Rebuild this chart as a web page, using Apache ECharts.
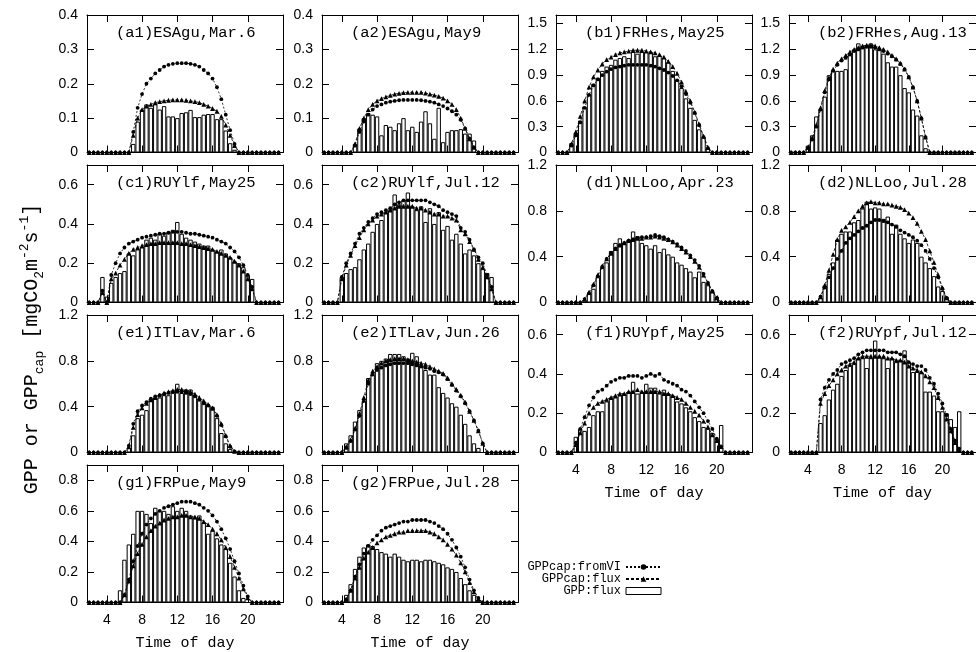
<!DOCTYPE html>
<html><head><meta charset="utf-8">
<script src="https://cdn.jsdelivr.net/npm/echarts@6/dist/echarts.min.js"></script>
<style>html,body{margin:0;padding:0;background:#fff}#c{width:976px;height:652px}</style>
</head><body><div id="c"></div>
<script>
// ---------- tick labels / categories ----------
const xTickHours = [4, 8, 12, 16, 20];
const yTicks_a = [0, 0.1, 0.2, 0.3, 0.4];
const yTicks_b = [0, 0.3, 0.6, 0.9, 1.2, 1.5];
const yTicks_c = [0, 0.2, 0.4, 0.6];
const yTicks_d = [0, 0.4, 0.8, 1.2];
const yTicks_g = [0, 0.2, 0.4, 0.6, 0.8];
const seriesNames = ['GPPcap:fromVI', 'GPPcap:flux', 'GPP:flux'];
const panelLabels = ['(a1)ESAgu,Mar.6', '(a2)ESAgu,May9', '(b1)FRHes,May25', '(b2)FRHes,Aug.13',
  '(c1)RUYlf,May25', '(c2)RUYlf,Jul.12', '(d1)NLLoo,Apr.23', '(d2)NLLoo,Jul.28',
  '(e1)ITLav,Mar.6', '(e2)ITLav,Jun.26', '(f1)RUYpf,May25', '(f2)RUYpf,Jul.12',
  '(g1)FRPue,May9', '(g2)FRPue,Jul.28'];

// ---------- half-hourly values (start hour, values every 0.5 h; zero elsewhere) ----------
const a1_bar = {start: 7.0, v: [0.025,0.09,0.125,0.14,0.13,0.14,0.125,0.135,0.105,0.105,0.1,0.115,0.117,0.124,0.103,0.103,0.11,0.112,0.112,0.097,0.097,0.064,0.027,0.008]};
const a1_vi = {start: 6.5, v: [0,0.06,0.13,0.17,0.2,0.215,0.23,0.24,0.25,0.255,0.258,0.26,0.26,0.26,0.258,0.255,0.25,0.24,0.23,0.215,0.19,0.155,0.11,0.065,0.025,0]};
const a1_fx = {start: 6.5, v: [0,0.05,0.1,0.125,0.135,0.14,0.145,0.148,0.15,0.152,0.153,0.153,0.153,0.152,0.15,0.148,0.145,0.14,0.135,0.128,0.12,0.105,0.08,0.05,0.02,0]};

const a2_bar = {start: 5.5, v: [0.025,0.07,0.1,0.115,0.11,0.105,0.05,0.08,0.075,0.065,0.085,0.1,0.065,0.075,0.06,0.09,0.12,0.085,0.04,0.13,0.03,0.06,0.065,0.065,0.068,0.055,0.055,0.035]};
const a2_vi = {start: 5.0, v: [0,0.02,0.06,0.09,0.11,0.125,0.135,0.14,0.145,0.148,0.15,0.152,0.153,0.153,0.153,0.153,0.152,0.15,0.148,0.145,0.14,0.135,0.128,0.12,0.11,0.095,0.07,0.04,0.015,0]};
const a2_fx = {start: 5.0, v: [0,0.025,0.07,0.1,0.125,0.14,0.15,0.157,0.162,0.166,0.17,0.172,0.174,0.175,0.175,0.175,0.175,0.173,0.17,0.167,0.163,0.158,0.15,0.14,0.125,0.1,0.07,0.04,0.015,0]};

const b1_bar = {start: 3.5, v: [0.11,0.23,0.37,0.53,0.68,0.8,0.87,0.95,1.0,1.02,1.08,1.1,1.12,1.1,1.17,1.15,1.17,1.17,1.17,1.12,1.13,1.1,1.05,0.95,0.85,0.75,0.63,0.52,0.38,0.27,0.18,0.05]};
const b1_vi = {start: 3.0, v: [0,0.08,0.2,0.35,0.52,0.67,0.78,0.85,0.9,0.94,0.97,0.99,1.0,1.01,1.02,1.02,1.02,1.02,1.02,1.01,1.0,0.98,0.96,0.93,0.89,0.84,0.77,0.68,0.58,0.46,0.32,0.18,0.05,0]};
const b1_fx = {start: 3.0, v: [0,0.1,0.24,0.42,0.6,0.76,0.88,0.96,1.03,1.08,1.11,1.14,1.16,1.17,1.18,1.19,1.19,1.19,1.18,1.17,1.16,1.14,1.11,1.06,1.0,0.92,0.82,0.71,0.6,0.47,0.33,0.19,0.06,0]};

const b2_bar = {start: 4.0, v: [0.08,0.2,0.42,0.5,0.65,0.9,0.95,0.95,0.95,0.97,1.15,1.2,1.27,1.22,1.25,1.27,1.2,1.2,1.15,1.05,1.0,1.0,0.9,0.75,0.7,0.5,0.43,0.2,0.05]};
const b2_vi = {start: 3.5, v: [0,0.05,0.15,0.3,0.5,0.7,0.85,0.95,1.02,1.07,1.1,1.14,1.18,1.2,1.22,1.23,1.23,1.22,1.2,1.18,1.15,1.12,1.08,1.03,0.97,0.88,0.76,0.6,0.4,0.18,0]};
const b2_fx = {start: 3.5, v: [0,0.06,0.17,0.32,0.52,0.72,0.87,0.97,1.04,1.09,1.13,1.17,1.2,1.22,1.24,1.25,1.25,1.24,1.22,1.2,1.17,1.13,1.09,1.04,0.97,0.88,0.76,0.6,0.4,0.18,0]};

const c1_bar = {start: 3.5, v: [0.13,0.03,0.1,0.13,0.15,0.16,0.25,0.24,0.27,0.28,0.32,0.33,0.32,0.35,0.34,0.36,0.37,0.41,0.35,0.33,0.32,0.31,0.3,0.29,0.29,0.27,0.26,0.27,0.25,0.23,0.21,0.2,0.18,0.14,0.12]};
const c1_vi = {start: 3.0, v: [0,0.06,0,0.14,0.2,0.25,0.28,0.3,0.31,0.32,0.33,0.335,0.34,0.345,0.35,0.35,0.355,0.36,0.36,0.36,0.355,0.35,0.35,0.345,0.34,0.335,0.33,0.32,0.31,0.3,0.28,0.26,0.23,0.19,0.14,0.08,0]};
const c1_fx = {start: 3.0, v: [0,0.05,0,0.12,0.15,0.19,0.22,0.25,0.27,0.28,0.29,0.295,0.3,0.3,0.305,0.305,0.305,0.305,0.305,0.3,0.3,0.295,0.29,0.285,0.28,0.275,0.27,0.26,0.25,0.24,0.23,0.21,0.19,0.16,0.12,0.07,0]};

const c2_bar = {start: 4.0, v: [0.13,0.15,0.17,0.18,0.22,0.27,0.3,0.36,0.4,0.42,0.46,0.47,0.55,0.5,0.52,0.56,0.49,0.47,0.49,0.41,0.48,0.4,0.46,0.37,0.39,0.32,0.35,0.3,0.25,0.27,0.24,0.2,0.17,0.15,0.13]};
const c2_vi = {start: 3.5, v: [0,0.13,0.2,0.25,0.3,0.35,0.38,0.41,0.43,0.45,0.46,0.47,0.48,0.5,0.51,0.52,0.52,0.52,0.52,0.52,0.52,0.51,0.5,0.49,0.47,0.46,0.45,0.44,0.38,0.36,0.32,0.27,0.23,0.2,0.14,0.08,0]};
const c2_fx = {start: 3.5, v: [0,0.12,0.19,0.24,0.29,0.33,0.37,0.4,0.42,0.44,0.45,0.46,0.47,0.48,0.49,0.49,0.49,0.49,0.48,0.48,0.47,0.46,0.45,0.45,0.44,0.44,0.43,0.42,0.37,0.35,0.31,0.27,0.22,0.18,0.13,0.07,0]};

const d1_bar = {start: 5.0, v: [0.02,0.08,0.12,0.22,0.3,0.35,0.45,0.52,0.56,0.52,0.55,0.62,0.58,0.52,0.5,0.47,0.5,0.44,0.47,0.42,0.4,0.35,0.33,0.3,0.27,0.22,0.27,0.18,0.15,0.1,0.05]};
const d1_vi = {start: 4.5, v: [0,0.03,0.08,0.15,0.23,0.31,0.38,0.43,0.47,0.5,0.52,0.54,0.55,0.56,0.57,0.57,0.58,0.59,0.58,0.57,0.55,0.53,0.51,0.48,0.45,0.41,0.37,0.32,0.25,0.17,0.1,0.04,0]};
const d1_fx = {start: 4.5, v: [0,0.03,0.09,0.16,0.24,0.32,0.38,0.43,0.47,0.5,0.52,0.54,0.55,0.56,0.56,0.57,0.57,0.58,0.57,0.56,0.55,0.53,0.5,0.47,0.44,0.4,0.36,0.31,0.24,0.17,0.1,0.04,0]};

const d2_bar = {start: 5.5, v: [0.04,0.15,0.25,0.35,0.55,0.6,0.62,0.62,0.7,0.72,0.82,0.88,0.82,0.83,0.82,0.73,0.75,0.6,0.68,0.6,0.56,0.52,0.55,0.52,0.4,0.35,0.3,0.23,0.14,0.1,0.05]};
const d2_vi = {start: 5.0, v: [0,0.05,0.13,0.22,0.3,0.38,0.45,0.52,0.56,0.59,0.62,0.65,0.67,0.7,0.72,0.72,0.71,0.7,0.68,0.66,0.63,0.61,0.59,0.57,0.54,0.5,0.45,0.38,0.3,0.22,0.12,0.04,0]};
const d2_fx = {start: 5.0, v: [0,0.05,0.15,0.28,0.42,0.55,0.63,0.66,0.7,0.75,0.8,0.84,0.87,0.88,0.87,0.87,0.86,0.86,0.85,0.84,0.83,0.81,0.78,0.74,0.69,0.62,0.55,0.45,0.35,0.24,0.13,0.04,0]};

const e1_bar = {start: 6.5, v: [0.04,0.15,0.3,0.33,0.37,0.47,0.48,0.48,0.5,0.5,0.52,0.6,0.52,0.55,0.55,0.5,0.46,0.43,0.42,0.4,0.3,0.17,0.08,0.03]};
const e1_vi = {start: 6.0, v: [0,0.06,0.25,0.36,0.41,0.44,0.47,0.49,0.5,0.51,0.52,0.53,0.53,0.53,0.52,0.51,0.49,0.46,0.43,0.41,0.38,0.32,0.24,0.14,0.05,0.01,0]};
const e1_fx = {start: 6.0, v: [0,0.05,0.22,0.33,0.39,0.43,0.46,0.48,0.5,0.52,0.53,0.54,0.55,0.55,0.54,0.53,0.51,0.48,0.45,0.42,0.39,0.33,0.25,0.15,0.06,0.01,0]};

const e2_bar = {start: 4.5, v: [0.08,0.15,0.27,0.37,0.45,0.65,0.68,0.78,0.8,0.82,0.86,0.86,0.86,0.84,0.82,0.87,0.84,0.76,0.72,0.68,0.68,0.57,0.52,0.48,0.43,0.4,0.33,0.25,0.15,0.08,0.04]};
const e2_vi = {start: 4.0, v: [0,0.04,0.1,0.2,0.32,0.45,0.6,0.68,0.72,0.74,0.76,0.77,0.78,0.78,0.78,0.78,0.77,0.76,0.75,0.74,0.73,0.71,0.7,0.68,0.64,0.59,0.54,0.49,0.43,0.36,0.28,0.19,0.08,0]};
const e2_fx = {start: 4.0, v: [0,0.05,0.11,0.21,0.34,0.48,0.63,0.71,0.75,0.78,0.8,0.81,0.82,0.82,0.82,0.81,0.8,0.79,0.78,0.77,0.75,0.73,0.71,0.69,0.65,0.6,0.55,0.5,0.44,0.36,0.28,0.19,0.08,0]};

const f1_bar = {start: 4.0, v: [0.08,0.12,0.11,0.13,0.19,0.21,0.21,0.26,0.28,0.28,0.29,0.3,0.31,0.36,0.3,0.31,0.35,0.33,0.33,0.3,0.32,0.3,0.29,0.26,0.25,0.23,0.21,0.18,0.16,0.13,0.12,0.1,0.07,0.14]};
const f1_vi = {start: 3.5, v: [0,0.05,0.12,0.18,0.24,0.28,0.31,0.32,0.34,0.36,0.37,0.38,0.38,0.39,0.39,0.39,0.38,0.39,0.4,0.39,0.4,0.37,0.36,0.35,0.34,0.32,0.31,0.29,0.26,0.23,0.2,0.16,0.12,0.07,0.03,0]};
const f1_fx = {start: 3.5, v: [0,0.04,0.1,0.15,0.2,0.23,0.25,0.26,0.27,0.28,0.29,0.3,0.3,0.31,0.31,0.32,0.31,0.31,0.31,0.31,0.31,0.3,0.3,0.29,0.28,0.27,0.25,0.23,0.21,0.19,0.16,0.13,0.09,0.06,0.03,0]};

const f2_bar = {start: 5.5, v: [0.15,0.19,0.27,0.32,0.35,0.39,0.42,0.44,0.45,0.48,0.48,0.43,0.48,0.57,0.49,0.48,0.43,0.48,0.46,0.47,0.52,0.46,0.41,0.41,0.41,0.31,0.31,0.29,0.21,0.21,0.2,0.17,0.13,0.21]};
const f2_vi = {start: 5.0, v: [0,0.27,0.33,0.37,0.4,0.42,0.45,0.46,0.47,0.48,0.5,0.51,0.52,0.52,0.52,0.52,0.52,0.51,0.51,0.51,0.5,0.49,0.46,0.45,0.44,0.44,0.42,0.38,0.35,0.3,0.25,0.19,0.12,0.06,0.02,0]};
const f2_fx = {start: 5.0, v: [0,0.25,0.3,0.34,0.37,0.4,0.42,0.44,0.45,0.46,0.48,0.49,0.49,0.49,0.49,0.49,0.49,0.48,0.48,0.47,0.47,0.46,0.44,0.43,0.42,0.41,0.39,0.36,0.33,0.28,0.23,0.17,0.11,0.05,0.01,0]};

const g1_bar = {start: 5.5, v: [0.08,0.28,0.38,0.45,0.6,0.6,0.58,0.52,0.62,0.6,0.6,0.58,0.63,0.6,0.62,0.6,0.57,0.55,0.57,0.52,0.45,0.47,0.42,0.38,0.35,0.26,0.17,0.08,0.03]};
const g1_vi = {start: 5.5, v: [0,0.05,0.15,0.27,0.37,0.45,0.51,0.55,0.58,0.6,0.62,0.63,0.64,0.65,0.66,0.66,0.66,0.65,0.64,0.62,0.6,0.57,0.53,0.48,0.42,0.35,0.27,0.19,0.11,0.04,0]};
const g1_fx = {start: 5.5, v: [0,0.05,0.14,0.24,0.32,0.38,0.43,0.47,0.5,0.52,0.54,0.55,0.56,0.56,0.57,0.57,0.56,0.56,0.55,0.53,0.51,0.48,0.45,0.41,0.36,0.3,0.23,0.16,0.09,0.03,0]};

const g2_bar = {start: 4.5, v: [0.05,0.12,0.22,0.3,0.36,0.38,0.37,0.35,0.33,0.32,0.3,0.32,0.3,0.28,0.27,0.28,0.28,0.27,0.28,0.28,0.27,0.26,0.25,0.23,0.22,0.2,0.16,0.12,0.08,0.05,0.02]};
const g2_vi = {start: 4.0, v: [0,0.02,0.08,0.17,0.25,0.32,0.37,0.41,0.44,0.47,0.49,0.5,0.51,0.52,0.53,0.53,0.54,0.54,0.54,0.54,0.53,0.52,0.5,0.48,0.45,0.41,0.36,0.3,0.23,0.15,0.08,0.03,0]};
const g2_fx = {start: 4.0, v: [0,0.02,0.08,0.16,0.23,0.29,0.33,0.36,0.39,0.41,0.43,0.44,0.45,0.46,0.46,0.47,0.47,0.47,0.47,0.47,0.46,0.45,0.43,0.41,0.38,0.35,0.31,0.26,0.2,0.13,0.07,0.02,0]};

// ---------- panel configuration ----------
const panels = [
  {lab: 0, row: 0, col: 0, ymax: 0.4, yt: yTicks_a, bar: a1_bar, vi: a1_vi, fx: a1_fx, xl: false},
  {lab: 1, row: 0, col: 1, ymax: 0.4, yt: yTicks_a, bar: a2_bar, vi: a2_vi, fx: a2_fx, xl: false},
  {lab: 2, row: 0, col: 2, ymax: 1.6, yt: yTicks_b, bar: b1_bar, vi: b1_vi, fx: b1_fx, xl: false},
  {lab: 3, row: 0, col: 3, ymax: 1.6, yt: yTicks_b, bar: b2_bar, vi: b2_vi, fx: b2_fx, xl: false},
  {lab: 4, row: 1, col: 0, ymax: 0.7, yt: yTicks_c, bar: c1_bar, vi: c1_vi, fx: c1_fx, xl: false},
  {lab: 5, row: 1, col: 1, ymax: 0.7, yt: yTicks_c, bar: c2_bar, vi: c2_vi, fx: c2_fx, xl: false},
  {lab: 6, row: 1, col: 2, ymax: 1.2, yt: yTicks_d, bar: d1_bar, vi: d1_vi, fx: d1_fx, xl: false},
  {lab: 7, row: 1, col: 3, ymax: 1.2, yt: yTicks_d, bar: d2_bar, vi: d2_vi, fx: d2_fx, xl: false},
  {lab: 8, row: 2, col: 0, ymax: 1.2, yt: yTicks_d, bar: e1_bar, vi: e1_vi, fx: e1_fx, xl: false},
  {lab: 9, row: 2, col: 1, ymax: 1.2, yt: yTicks_d, bar: e2_bar, vi: e2_vi, fx: e2_fx, xl: false},
  {lab: 10, row: 2, col: 2, ymax: 0.7, yt: yTicks_c, bar: f1_bar, vi: f1_vi, fx: f1_fx, xl: true},
  {lab: 11, row: 2, col: 3, ymax: 0.7, yt: yTicks_c, bar: f2_bar, vi: f2_vi, fx: f2_fx, xl: true},
  {lab: 12, row: 3, col: 0, ymax: 0.9, yt: yTicks_g, bar: g1_bar, vi: g1_vi, fx: g1_fx, xl: true},
  {lab: 13, row: 3, col: 1, ymax: 0.9, yt: yTicks_g, bar: g2_bar, vi: g2_vi, fx: g2_fx, xl: true}
];

const colLeft = [87, 322, 556, 789];
const GW = 196, GH = 137.5;
const X_MIN = 1.75, X_MAX = 24;

function lineData(s) {
  const out = [];
  for (let k = 4; k <= 47; k++) {           // 2.0 h .. 23.5 h
    const t = k / 2;
    const i = Math.round((t - s.start) * 2);
    out.push([t, (i >= 0 && i < s.v.length) ? s.v[i] : 0]);
  }
  return out;
}
function barData(s) {
  return s.v.map((v, i) => [s.start + i * 0.5, v]);
}

const mono = 'Liberation Mono, Courier New, monospace';
const sans = 'Liberation Sans, Arial, sans-serif';

const grid = [], xAxis = [], yAxis = [], series = [], title = [];
panels.forEach((p, i) => {
  const left = colLeft[p.col], top = 15 + 150 * p.row;
  grid.push({left: left, top: top, width: GW, height: GH, containLabel: false});
  const tick = {show: true, inside: true, length: 7, lineStyle: {color: '#000', width: 1}};
  const line = {show: true, onZero: false, lineStyle: {color: '#000', width: 1}};
  xAxis.push({
    type: 'value', gridIndex: i, min: X_MIN, max: X_MAX, position: 'bottom',
    axisLine: line, axisTick: Object.assign({customValues: xTickHours}, tick),
    axisLabel: {show: p.xl, customValues: xTickHours, margin: 11, color: '#000', fontFamily: sans, fontSize: 14},
    splitLine: {show: false},
    name: p.xl ? 'Time of day' : '', nameLocation: 'middle', nameGap: 33,
    nameTextStyle: {fontFamily: mono, fontSize: 15, color: '#000'}
  });
  xAxis.push({
    type: 'value', gridIndex: i, min: X_MIN, max: X_MAX, position: 'top',
    axisLine: line, axisTick: Object.assign({customValues: xTickHours}, tick),
    axisLabel: {show: false}, splitLine: {show: false}
  });
  yAxis.push({
    type: 'value', gridIndex: i, min: 0, max: p.ymax, position: 'left',
    axisLine: line, axisTick: Object.assign({customValues: p.yt}, tick),
    axisLabel: {show: true, customValues: p.yt, margin: 9, color: '#000', fontFamily: sans, fontSize: 14},
    splitLine: {show: false}
  });
  yAxis.push({
    type: 'value', gridIndex: i, min: 0, max: p.ymax, position: 'right',
    axisLine: line, axisTick: Object.assign({customValues: p.yt}, tick),
    axisLabel: {show: false}, splitLine: {show: false}
  });
  series.push({
    name: seriesNames[2], type: 'bar', xAxisIndex: 2 * i, yAxisIndex: 2 * i,
    data: barData(p.bar), barWidth: 4.4, z: 1,
    itemStyle: {color: 'rgba(0,0,0,0)', borderColor: '#000', borderWidth: 1}
  });
  series.push({
    name: seriesNames[0], type: 'line', xAxisIndex: 2 * i, yAxisIndex: 2 * i,
    data: lineData(p.vi), symbol: 'circle', symbolSize: 3.8, showSymbol: true, z: 3,
    itemStyle: {color: '#000'}, lineStyle: {color: '#000', width: 0.8, type: [2, 2]}
  });
  series.push({
    name: seriesNames[1], type: 'line', xAxisIndex: 2 * i, yAxisIndex: 2 * i,
    data: lineData(p.fx), symbol: 'triangle', symbolSize: 4.8, showSymbol: true, z: 3,
    itemStyle: {color: '#000'}, lineStyle: {color: '#000', width: 0.8, type: [3, 2]}
  });
  title.push({
    text: panelLabels[p.lab], left: left + 29, top: top + 10, padding: 0,
    textStyle: {fontFamily: mono, fontSize: 15.5, fontWeight: 'normal', color: '#000'}
  });
});

const option = {
  animation: false,
  backgroundColor: '#fff',
  title: title,
  grid: grid,
  xAxis: xAxis,
  yAxis: yAxis,
  series: series,
  legend: {
    orient: 'vertical', right: 314, top: 561, align: 'right', padding: 0,
    itemWidth: 35, itemHeight: 7, itemGap: 0, selectedMode: false,
    textStyle: {fontFamily: mono, fontSize: 12, lineHeight: 12, color: '#000'},
    data: [
      {name: seriesNames[0]},
      {name: seriesNames[1]},
      {name: seriesNames[2], icon: 'rect', itemStyle: {color: 'rgba(0,0,0,0)', borderColor: '#000', borderWidth: 1}}
    ]
  },
  graphic: [{
    type: 'text', x: 32, y: 349, rotation: Math.PI / 2,
    style: {
      text: '{m|GPP or GPP}{sb|cap}{m| [mgCO}{sb|2}{m|m}{sp|-2}{m|s}{sp|-1}{m|]}',
      align: 'center', verticalAlign: 'middle',
      rich: {
        m: {fontFamily: mono, fontSize: 20, lineHeight: 28, fill: '#000'},
        sb: {fontFamily: mono, fontSize: 13, lineHeight: 13, verticalAlign: 'bottom', fill: '#000'},
        sp: {fontFamily: mono, fontSize: 13, lineHeight: 13, verticalAlign: 'top', fill: '#000'}
      }
    }
  }]
};

const chart = echarts.init(document.getElementById('c'), null, {renderer: 'canvas'});
chart.setOption(option);
</script>
</body></html>
